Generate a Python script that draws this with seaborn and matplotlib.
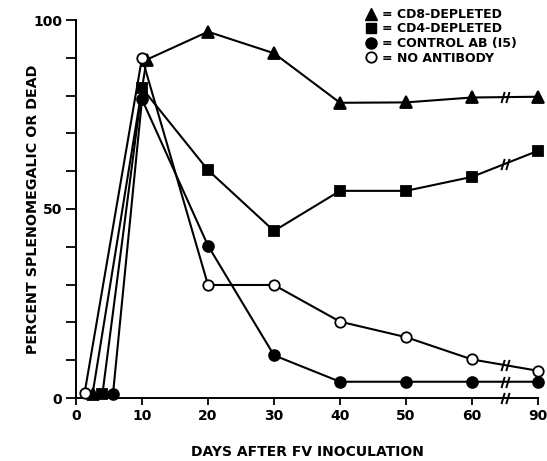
import numpy as np
import pandas as pd
import matplotlib
matplotlib.use("Agg")
import matplotlib.pyplot as plt
from matplotlib.lines import Line2D
from matplotlib.path import Path
import seaborn as sns

# ---- data ----
days_cd8 = [2.5, 10.7, 20, 30, 40, 50, 60, 90]
cd8 = [1, 89.5, 96.9, 91.2, 78.1, 78.2, 79.5, 79.7]

days_cd4 = [4.0, 10, 20, 30, 40, 50, 60, 90]
cd4 = [1, 82, 60.3, 44.2, 54.8, 54.8, 58.5, 65.4]

days_ctrl = [5.6, 10, 20, 30, 40, 50, 60, 90]
ctrl = [1, 79, 40.3, 11.3, 4.3, 4.3, 4.3, 4.3]

days_none = [1.3, 10, 20, 30, 40, 50, 60, 90]
none_ab = [1.3, 90, 29.9, 29.9, 20.2, 16.1, 10.2, 7.2]

tick_days = [0, 10, 20, 30, 40, 50, 60, 90]
labels = ["= CD8-DEPLETED", "= CD4-DEPLETED", "= CONTROL AB (I5)", "= NO ANTIBODY"]

BREAK_FROM, BREAK_TO = 60, 70   # day 60 -> pos 60, day 90 -> pos 70 (broken axis)


def pos(d):
    d = np.asarray(d, dtype=float)
    return np.where(d <= BREAK_FROM, d, BREAK_TO)


# "//" break symbol as a stroked marker path
BREAK_MARK = Path([(-2.2, -3), (-0.4, 3), (0.4, -3), (2.2, 3)],
                  [Path.MOVETO, Path.LINETO, Path.MOVETO, Path.LINETO])

sns.set_style("ticks")
plt.rcParams['font.family'] = ['DejaVu Sans']
plt.rcParams['font.weight'] = 'bold'
for k in ['text.color', 'axes.labelcolor', 'xtick.color', 'ytick.color',
          'axes.edgecolor']:
    plt.rcParams[k] = 'black'

fig = plt.figure(figsize=(5.47, 4.61), dpi=100)
ax = fig.add_axes([76/547, 1 - 398/461, (538 - 76)/547, (398 - 20)/461])

series = [
    (days_cd8, cd8, dict(marker="^", markerfacecolor="black", markersize=8.5)),
    (days_cd4, cd4, dict(marker="s", markerfacecolor="black", markersize=7.5)),
    (days_ctrl, ctrl, dict(marker="o", markerfacecolor="black", markersize=7.8)),
    (days_none, none_ab, dict(marker="o", markerfacecolor="white", markersize=7.5)),
]

brk_x, brk_y = [], []
for i, (d, v, mk) in enumerate(series):
    df = pd.DataFrame({"x": pos(d), "y": v})
    sns.lineplot(data=df, x="x", y="y", ax=ax, sort=False, estimator=None,
                 color="black", linewidth=1.5, markeredgecolor="black",
                 markeredgewidth=1.3, clip_on=False, zorder=3 + i, **mk)
    brk_x.append((BREAK_FROM + BREAK_TO) / 2)
    brk_y.append((v[-2] + v[-1]) / 2)
# break mark on the x axis too
brk_x.append((BREAK_FROM + BREAK_TO) / 2)
brk_y.append(0)
ax.plot(brk_x, brk_y, linestyle="none", marker=BREAK_MARK, markersize=8,
        markeredgewidth=1.4, color="black", clip_on=False, zorder=10)

ax.set_xlim(0, BREAK_TO)
ax.set_ylim(0, 100)
ax.set_xticks(pos(tick_days))
ax.set_xticklabels([str(t) for t in tick_days])
ax.set_yticks([0, 50, 100])
ax.set_yticks(np.arange(0, 101, 10), minor=True)
ax.tick_params(axis="both", which="both", direction="out", length=5, width=1.3,
               color="black", labelcolor="black", labelsize=10, pad=3)
ax.tick_params(axis="y", which="both", length=7)
for lab in ax.get_xticklabels() + ax.get_yticklabels():
    lab.set_fontweight("bold")
sns.despine(ax=ax)
for s in ["left", "bottom"]:
    ax.spines[s].set_linewidth(1.4)
    ax.spines[s].set_color("black")

ax.set_xlabel("DAYS AFTER FV INOCULATION", fontsize=10, fontweight="bold",
              va="center", color="black")
ax.set_ylabel("PERCENT SPLENOMEGALIC OR DEAD", fontsize=10.3, fontweight="bold",
              va="center", color="black")
ax.xaxis.set_label_coords((307 - 76) / 462, -(452 - 398) / 378)
ax.yaxis.set_label_coords(-(76 - 33) / 462, 0.5)

handles = [
    Line2D([], [], linestyle="none", marker="^", color="black", markersize=8.5),
    Line2D([], [], linestyle="none", marker="s", color="black", markersize=7.5),
    Line2D([], [], linestyle="none", marker="o", color="black", markersize=8),
    Line2D([], [], linestyle="none", marker="o", markerfacecolor="white",
           markeredgecolor="black", markeredgewidth=1.3, markersize=7.5),
]
leg = fig.legend(handles, labels, loc="upper left",
                 bbox_to_anchor=(366 / 547, 1 - 8 / 461), frameon=False,
                 fontsize=9, labelspacing=0.12, handlelength=0.8,
                 handletextpad=0.5, borderpad=0, borderaxespad=0)
for t in leg.get_texts():
    t.set_fontweight("bold")
    t.set_color("black")

fig.savefig("out.png", dpi=100)
